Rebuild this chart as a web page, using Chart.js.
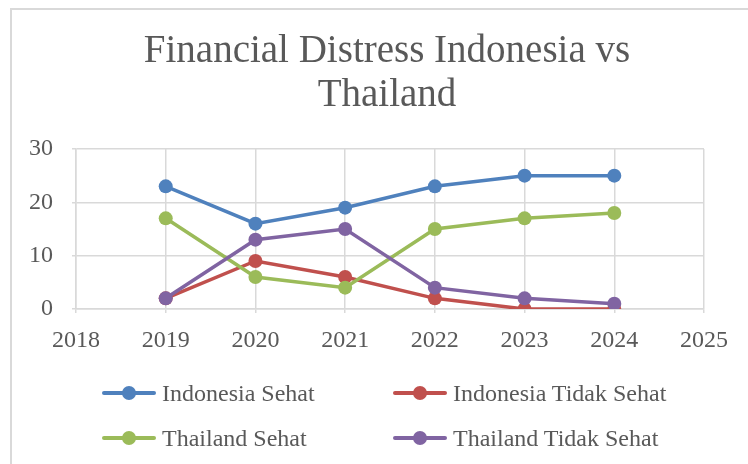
<!DOCTYPE html>
<html>
<head>
<meta charset="utf-8">
<script src="https://cdn.jsdelivr.net/npm/chart.js@4.4.1/dist/chart.umd.min.js"></script>
<style>
  html, body { margin: 0; padding: 0; background: #fff; overflow: hidden; }
  body { width: 748px; height: 464px; position: relative; font-family: 'Liberation Serif', serif; }
  .frame { position: absolute; left: 10px; top: 8px; width: 760px; height: 480px; border: 2px solid #d9d9d9; box-sizing: border-box; }
  #chart { position: absolute; left: 0; top: 0; }
  .legend { position: absolute; left: 0; top: 0; }
  .item { position: absolute; height: 24px; display: flex; align-items: center; color: #595959; font-size: 24px; white-space: nowrap; }
  .mark { position: relative; width: 54px; height: 24px; margin-right: 6px; }
  .mark .ln { position: absolute; left: 0; right: 0; top: 10px; height: 4px; border-radius: 2px; }
  .mark .pt { position: absolute; left: 20px; top: 5px; width: 14px; height: 14px; border-radius: 50%; }
</style>
</head>
<body>
<div class="frame"></div>
<canvas id="chart" width="748" height="464"></canvas>
<div class="legend" id="legend"></div>
<script>
// data
const years = [2019, 2020, 2021, 2022, 2023, 2024];
const xTicks = [2018, 2019, 2020, 2021, 2022, 2023, 2024, 2025];
const yTicks = [0, 10, 20, 30];
const titleLines = ['Financial Distress Indonesia vs', 'Thailand'];
const seriesNames = ['Indonesia Sehat', 'Indonesia Tidak Sehat', 'Thailand Sehat', 'Thailand Tidak Sehat'];
const indonesiaSehat = [23, 16, 19, 23, 25, 25];
const indonesiaTidakSehat = [2, 9, 6, 2, 0, 0];
const thailandSehat = [17, 6, 4, 15, 17, 18];
const thailandTidakSehat = [2, 13, 15, 4, 2, 1];
const colors = ['#4f81bd', '#c0504d', '#9bbb59', '#8064a2'];

document.addEventListener('DOMContentLoaded', function() {
    var allSeries = [indonesiaSehat, indonesiaTidakSehat, thailandSehat, thailandTidakSehat];
    var datasets = allSeries.map(function(vals, i) {
        return {
            label: seriesNames[i],
            data: vals.map(function(v, j) { return { x: years[j], y: v }; }),
            borderColor: colors[i],
            backgroundColor: colors[i],
            borderWidth: 3.5,
            pointRadius: 7,
            pointHoverRadius: 7,
            pointBorderWidth: 0,
            tension: 0,
            order: 3 - i
        };
    });

    var textColor = '#595959';
    var gridColor = '#d9d9d9';

    // title centred on the outer frame rather than on the chart box
    var frameTitle = {
        id: 'frameTitle',
        afterDraw: function(chart) {
            var c = chart.ctx;
            c.save();
            c.fillStyle = textColor;
            c.font = "39px 'Liberation Serif', serif";
            c.textAlign = 'center';
            c.textBaseline = 'middle';
            titleLines.forEach(function(line, i) {
                c.fillText(line, 387, 52 + i * 44);
            });
            c.restore();
        }
    };

    var ctx = document.getElementById('chart').getContext('2d');
    new Chart(ctx, {
        type: 'line',
        data: { datasets: datasets },
        plugins: [frameTitle],
        options: {
            responsive: false,
            animation: false,
            layout: { padding: { left: 0, right: 44, top: 149, bottom: 100 } },
            plugins: {
                legend: { display: false },
                tooltip: { enabled: false },
                title: { display: false }
            },
            scales: {
                x: {
                    type: 'linear',
                    min: xTicks[0],
                    max: xTicks[xTicks.length - 1],
                    afterBuildTicks: function(scale) {
                        scale.ticks = xTicks.map(function(v) { return { value: v }; });
                    },
                    afterFit: function(scale) { scale.height = 55; },
                    ticks: {
                        color: textColor,
                        font: { family: "'Liberation Serif', serif", size: 24 },
                        padding: 13,
                        maxRotation: 0,
                        callback: function(v) { return String(v); }
                    },
                    grid: { color: gridColor, lineWidth: 1.5, tickLength: 4 },
                    border: { color: gridColor, width: 1.5 }
                },
                y: {
                    min: yTicks[0],
                    max: yTicks[yTicks.length - 1],
                    afterBuildTicks: function(scale) {
                        scale.ticks = yTicks.map(function(v) { return { value: v }; });
                    },
                    afterFit: function(scale) { scale.width = 76; },
                    ticks: {
                        color: textColor,
                        font: { family: "'Liberation Serif', serif", size: 24 },
                        padding: 19
                    },
                    grid: { color: gridColor, lineWidth: 1.5, tickLength: 4 },
                    border: { color: gridColor, width: 1.5 }
                }
            }
        }
    });

    // legend in two columns, like the reference
    var legendEl = document.getElementById('legend');
    var colX = [102, 393];
    var rowY = [381, 426];
    seriesNames.forEach(function(name, i) {
        var item = document.createElement('div');
        item.className = 'item';
        item.style.left = colX[i % 2] + 'px';
        item.style.top = rowY[Math.floor(i / 2)] + 'px';
        item.innerHTML = '<span class="mark"><span class="ln" style="background:' + colors[i] + '"></span>' +
            '<span class="pt" style="background:' + colors[i] + '"></span></span><span>' + name + '</span>';
        legendEl.appendChild(item);
    });
});
</script>
</body>
</html>
